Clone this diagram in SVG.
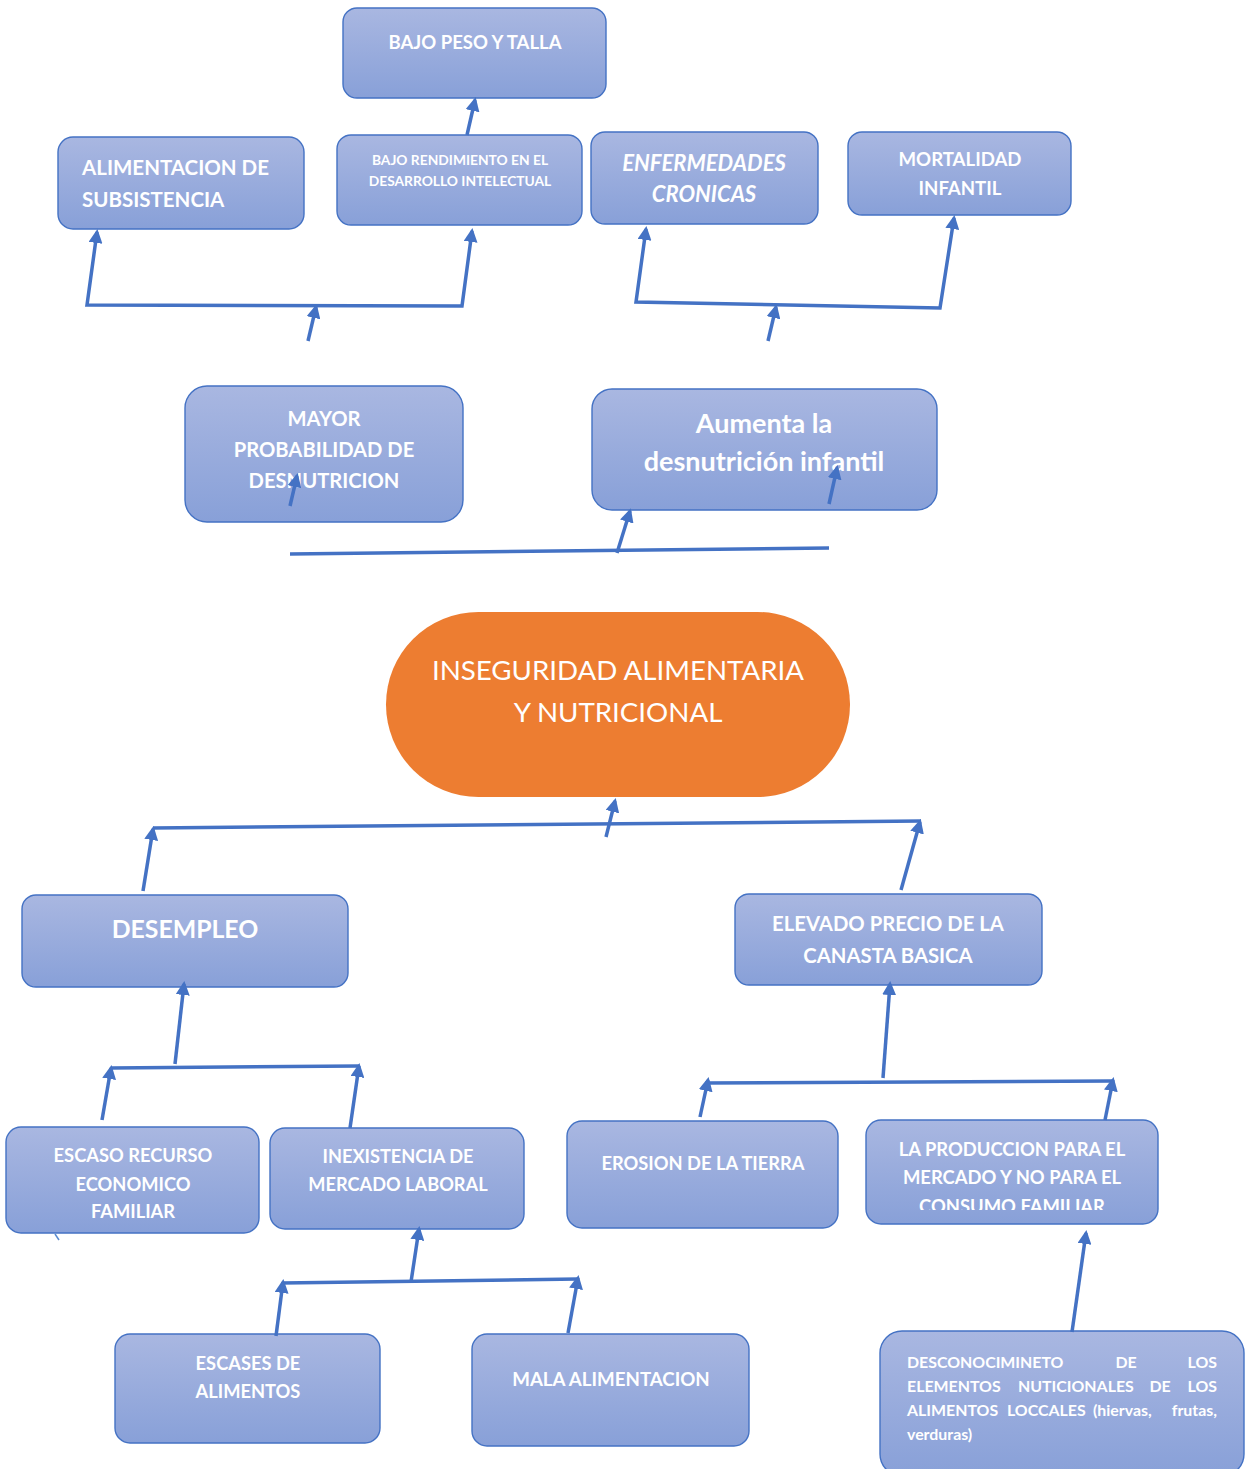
<svg xmlns="http://www.w3.org/2000/svg" width="1247" height="1469" viewBox="0 0 1247 1469">
<defs>
<linearGradient id="g" x1="0" y1="0" x2="0" y2="1">
<stop offset="0" stop-color="#A9B7E1"/>
<stop offset="1" stop-color="#88A0D8"/>
</linearGradient>
<marker id="ah" markerUnits="userSpaceOnUse" markerWidth="14" markerHeight="14" refX="11" refY="7" orient="auto-start-reverse">
<path d="M0,0 L14,7 L0,14 z" fill="#4472C4"/>
</marker>
<clipPath id="clipProd"><rect x="866" y="1120" width="292" height="90"/></clipPath>
</defs>
<style>
.box{fill:url(#g);stroke:#4472C4;stroke-width:1.4}
.t{font-family:Lato,"Open Sans","Liberation Sans",sans-serif;font-weight:bold;fill:#FFFFFF;text-anchor:middle}
.c{stroke:#4472C4;stroke-width:3.5;fill:none;stroke-linejoin:miter}
.a{marker-end:url(#ah)}
</style>

<g id="n-bajo-peso">
<rect class="box" x="343" y="8" width="263" height="90" rx="14"/>
<text class="t" x="475" y="49" font-size="18.5">BAJO PESO Y TALLA</text>
</g>
<g id="n-alimentacion">
<rect class="box" x="58" y="137" width="246" height="92" rx="15"/>
<text class="t" x="82" y="175" font-size="20.5" style="text-anchor:start">ALIMENTACION DE</text>
<text class="t" x="82" y="207" font-size="20.5" style="text-anchor:start">SUBSISTENCIA</text>
</g>
<g id="n-bajo-rendimiento">
<rect class="box" x="337" y="135" width="245" height="90" rx="14"/>
<text class="t" x="460" y="165" font-size="13.8">BAJO RENDIMIENTO EN EL</text>
<text class="t" x="460" y="186" font-size="13.8">DESARROLLO INTELECTUAL</text>
</g>
<g id="n-enfermedades">
<rect class="box" x="591" y="132" width="227" height="92" rx="14"/>
<text class="t" x="704" y="171" font-size="22" font-style="italic">ENFERMEDADES</text>
<text class="t" x="704" y="202" font-size="22" font-style="italic">CRONICAS</text>
</g>
<g id="n-mortalidad">
<rect class="box" x="848" y="132" width="223" height="83" rx="14"/>
<text class="t" x="960" y="166" font-size="18.6">MORTALIDAD</text>
<text class="t" x="960" y="195" font-size="18.6">INFANTIL</text>
</g>
<g id="n-mayor">
<rect class="box" x="185" y="386" width="278" height="136" rx="22"/>
<text class="t" x="324" y="426" font-size="20.2">MAYOR</text>
<text class="t" x="324" y="457" font-size="20.2">PROBABILIDAD DE</text>
<text class="t" x="324" y="488" font-size="20.2">DESNUTRICION</text>
</g>
<g id="n-aumenta">
<rect class="box" x="592" y="389" width="345" height="121" rx="20"/>
<text class="t" x="764" y="433" font-size="27">Aumenta la</text>
<text class="t" x="764" y="471" font-size="27">desnutrición infantil</text>
</g>

<g id="n-inseguridad">
<rect x="386" y="612" width="464" height="185" rx="92.5" fill="#ED7D31"/>
<text class="t" x="618" y="680" font-size="27.7" style="font-weight:normal">INSEGURIDAD ALIMENTARIA</text>
<text class="t" x="618" y="722" font-size="27.7" style="font-weight:normal">Y NUTRICIONAL</text>
</g>

<g id="n-desempleo">
<rect class="box" x="22" y="895" width="326" height="92" rx="14"/>
<text class="t" x="185" y="938" font-size="24.8">DESEMPLEO</text>
</g>
<g id="n-elevado">
<rect class="box" x="735" y="894" width="307" height="91" rx="14"/>
<text class="t" x="888" y="931" font-size="20.3">ELEVADO PRECIO DE LA</text>
<text class="t" x="888" y="963" font-size="20.3">CANASTA BASICA</text>
</g>
<g id="n-escaso">
<rect class="box" x="6" y="1127" width="253" height="106" rx="15"/>
<text class="t" x="133" y="1162" font-size="18.3">ESCASO RECURSO</text>
<text class="t" x="133" y="1191" font-size="18.3">ECONOMICO</text>
<text class="t" x="133" y="1218" font-size="18.3">FAMILIAR</text>
</g>
<g id="n-inexistencia">
<rect class="box" x="270" y="1128" width="254" height="101" rx="15"/>
<text class="t" x="398" y="1163" font-size="18.2">INEXISTENCIA DE</text>
<text class="t" x="398" y="1191" font-size="18.2">MERCADO LABORAL</text>
</g>
<g id="n-erosion">
<rect class="box" x="567" y="1121" width="271" height="107" rx="15"/>
<text class="t" x="703" y="1170" font-size="18.3">EROSION DE LA TIERRA</text>
</g>
<g id="n-produccion">
<rect class="box" x="866" y="1120" width="292" height="104" rx="15"/>
<g clip-path="url(#clipProd)">
<text class="t" x="1012" y="1156" font-size="18.4">LA PRODUCCION PARA EL</text>
<text class="t" x="1012" y="1184" font-size="18.4">MERCADO Y NO PARA EL</text>
<text class="t" x="1012" y="1213" font-size="18.4">CONSUMO  FAMILIAR</text>
</g>
</g>
<g id="n-escases">
<rect class="box" x="115" y="1334" width="265" height="109" rx="15"/>
<text class="t" x="248" y="1370" font-size="18.3">ESCASES DE</text>
<text class="t" x="248" y="1398" font-size="18.3">ALIMENTOS</text>
</g>
<g id="n-mala">
<rect class="box" x="472" y="1334" width="277" height="112" rx="15"/>
<text class="t" x="611" y="1386" font-size="18.7">MALA ALIMENTACION</text>
</g>
<g id="n-desconocimiento">
<rect class="box" x="880" y="1331" width="364" height="145" rx="22"/>
<g font-size="15.9">
<text class="t" x="907" y="1368" style="text-anchor:start">DESCONOCIMINETO</text>
<text class="t" x="1126" y="1368">DE</text>
<text class="t" x="1217" y="1368" style="text-anchor:end">LOS</text>
<text class="t" x="907" y="1392" style="text-anchor:start">ELEMENTOS</text>
<text class="t" x="1018" y="1392" style="text-anchor:start">NUTICIONALES</text>
<text class="t" x="1160" y="1392">DE</text>
<text class="t" x="1217" y="1392" style="text-anchor:end">LOS</text>
<text class="t" x="907" y="1416" style="text-anchor:start">ALIMENTOS</text>
<text class="t" x="1007" y="1416" style="text-anchor:start">LOCCALES</text>
<text class="t" x="1093" y="1416" style="text-anchor:start">(hiervas,</text>
<text class="t" x="1217" y="1416" style="text-anchor:end">frutas,</text>
<text class="t" x="907" y="1440" style="text-anchor:start">verduras)</text>
</g>
</g>

<g id="connectors">
<line class="c a" x1="467" y1="135" x2="475" y2="100"/>
<path class="c" d="M97,232 L87,305 L462,306 L472,231" marker-start="url(#ah)" marker-end="url(#ah)"/>
<line class="c a" x1="308" y1="341" x2="316" y2="307"/>
<path class="c" d="M646,229 L636,302 L940,308 L954,218" marker-start="url(#ah)" marker-end="url(#ah)"/>
<line class="c a" x1="768" y1="341" x2="776" y2="307"/>
<line class="c a" x1="290" y1="506" x2="297" y2="476"/>
<line class="c a" x1="829" y1="504" x2="837" y2="468"/>
<line class="c" x1="290" y1="554" x2="829" y2="548"/>
<line class="c a" x1="617" y1="553" x2="630" y2="511"/>

<line class="c" x1="153" y1="828" x2="921" y2="821"/>
<line class="c a" x1="143" y1="891" x2="153" y2="829"/>
<line class="c a" x1="606" y1="837" x2="615" y2="801"/>
<line class="c a" x1="901" y1="890" x2="920" y2="822"/>

<line class="c a" x1="175" y1="1064" x2="184" y2="984"/>
<line class="c" x1="111" y1="1068" x2="359" y2="1066"/>
<line class="c a" x1="102" y1="1120" x2="111" y2="1068"/>
<line class="c a" x1="350" y1="1128" x2="359" y2="1066"/>
<line x1="55" y1="1234" x2="59" y2="1240" stroke="#5B8BD0" stroke-width="1.5"/>

<line class="c a" x1="411" y1="1282" x2="419" y2="1229"/>
<line class="c" x1="282" y1="1283" x2="578" y2="1279"/>
<line class="c a" x1="276" y1="1336" x2="283" y2="1282"/>
<line class="c a" x1="568" y1="1333" x2="578" y2="1278"/>

<line class="c a" x1="883" y1="1078" x2="890" y2="984"/>
<line class="c" x1="705" y1="1083" x2="1112" y2="1081"/>
<line class="c a" x1="700" y1="1117" x2="708" y2="1080"/>
<line class="c a" x1="1105" y1="1120" x2="1113" y2="1080"/>
<line class="c a" x1="1072" y1="1332" x2="1086" y2="1233"/>
</g>
</svg>
